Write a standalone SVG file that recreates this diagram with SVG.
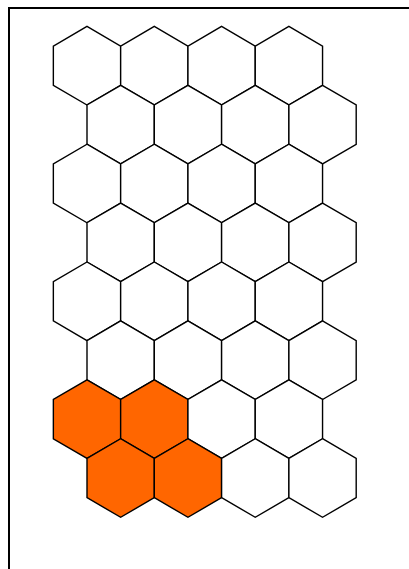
<svg xmlns="http://www.w3.org/2000/svg" width="409" height="569" viewBox="0 0 409 569">
<defs>
<style>
.hex{fill:#ffffff;stroke:#000000;stroke-width:1.4;stroke-linejoin:miter}
.on{fill:#ff6600}
.frame{fill:none;stroke:#000000;stroke-width:2}
</style>
<path id="h" d="M0,-39.3 L33.65,-19.65 L33.65,19.65 L0,39.3 L-33.65,19.65 L-33.65,-19.65 Z"/>
</defs>
<rect width="409" height="569" fill="#ffffff"/>
<rect class="frame" x="9" y="8" width="420" height="580"/>
<g id="grid">
<g id="r0">
<use href="#h" class="hex" x="87" y="65.7"/><use href="#h" class="hex" x="154.3" y="65.7"/><use href="#h" class="hex" x="221.6" y="65.7"/><use href="#h" class="hex" x="288.9" y="65.7"/>
</g>
<g id="r1">
<use href="#h" class="hex" x="120.65" y="124.6"/><use href="#h" class="hex" x="187.95" y="124.6"/><use href="#h" class="hex" x="255.25" y="124.6"/><use href="#h" class="hex" x="322.55" y="124.6"/>
</g>
<g id="r2">
<use href="#h" class="hex" x="87" y="183.5"/><use href="#h" class="hex" x="154.3" y="183.5"/><use href="#h" class="hex" x="221.6" y="183.5"/><use href="#h" class="hex" x="288.9" y="183.5"/>
</g>
<g id="r3">
<use href="#h" class="hex" x="120.65" y="242.4"/><use href="#h" class="hex" x="187.95" y="242.4"/><use href="#h" class="hex" x="255.25" y="242.4"/><use href="#h" class="hex" x="322.55" y="242.4"/>
</g>
<g id="r4">
<use href="#h" class="hex" x="87" y="301.3"/><use href="#h" class="hex" x="154.3" y="301.3"/><use href="#h" class="hex" x="221.6" y="301.3"/><use href="#h" class="hex" x="288.9" y="301.3"/>
</g>
<g id="r5">
<use href="#h" class="hex" x="120.65" y="360.2"/><use href="#h" class="hex" x="187.95" y="360.2"/><use href="#h" class="hex" x="255.25" y="360.2"/><use href="#h" class="hex" x="322.55" y="360.2"/>
</g>
<g id="r6">
<use href="#h" class="hex on" x="87" y="419.1"/><use href="#h" class="hex on" x="154.3" y="419.1"/><use href="#h" class="hex" x="221.6" y="419.1"/><use href="#h" class="hex" x="288.9" y="419.1"/>
</g>
<g id="r7">
<use href="#h" class="hex on" x="120.65" y="478"/><use href="#h" class="hex on" x="187.95" y="478"/><use href="#h" class="hex" x="255.25" y="478"/><use href="#h" class="hex" x="322.55" y="478"/>
</g>
</g>
</svg>
